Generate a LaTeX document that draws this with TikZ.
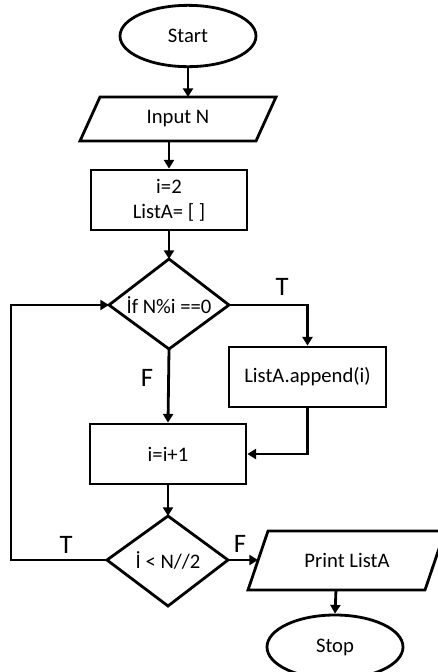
\documentclass[tikz,border=0pt]{standalone}
\usepackage{fontspec}
\setmainfont{Carlito}
\usetikzlibrary{arrows.meta,shapes.geometric}
\begin{document}
\begin{tikzpicture}[x=0.75pt,y=-0.75pt,line width=2.1pt,
  txt/.style={font=\fontsize{15.5}{19}\selectfont, align=center, inner sep=0pt},
  lbl/.style={font=\fontsize{20}{23}\selectfont, inner sep=0pt},
  term/.style={draw, ellipse, txt, minimum width=102pt, minimum height=46pt},
  procbox/.style={draw, rectangle, txt, minimum width=117pt, minimum height=45pt},
  arr/.style={-{Triangle[length=6.5pt,width=7.5pt]}}]
\useasboundingbox (0,0) rectangle (438,672);
\fill[white] (0,0) rectangle (438,672);
% Start
\node[term] (start) at (188,36) {Start};
% Input N parallelogram
\draw[line join=miter] (100,97) -- (276,97) -- (256,141) -- (80,141) -- cycle;
\node[txt] (input) at (178,119) {Input N};
\coordinate (inTop) at (188,97);
\coordinate (inBot) at (169,141);
% init box
\node[procbox] (init) at (169,200) {i=2\\ListA= [ ]};
% decision 1
\coordinate (d1n) at (169,259);
\coordinate (d1s) at (169,349);
\coordinate (d1w) at (109,305);
\coordinate (d1e) at (229,305);
\draw[line join=miter] (d1n) -- (d1e) -- (d1s) -- (d1w) -- cycle;
\node[txt] (d1) at (169,305) {İf N\%i ==0};
% append box
\node[procbox, minimum width=117.75pt] (app) at (307.5,377) {ListA.append(i)};
% increment box
\node[procbox] (inc) at (168,454) {i=i+1};
% decision 2
\coordinate (d2n) at (168,516);
\coordinate (d2s) at (168,606);
\coordinate (d2w) at (107,560);
\coordinate (d2e) at (228,560);
\draw[line join=miter] (d2n) -- (d2e) -- (d2s) -- (d2w) -- cycle;
\node[txt] (d2) at (168,560) {İ < N//2};
% Print parallelogram
\draw[line join=miter] (268,531) -- (445,531) -- (425,590) -- (248,590) -- cycle;
\node[txt] (print) at (347,560) {Print ListA};
\coordinate (prLeft) at (258,560);
\coordinate (prBot) at (336,590);
% Stop
\node[term, minimum height=48pt] (stop) at (335,647) {Stop};
% connectors
\draw[arr] (start.south) -- (inTop);
\draw[arr] (inBot) -- (init.north);
\draw[arr] (init.south) -- (d1n);
\draw[arr] (d1e) -| (app.north);
\draw[arr] (d1s) -- (inc.north);
\draw[arr] (app.south) |- (inc.east);
\draw[arr] (inc.south) -- (d2n);
\coordinate (loopB) at (11,560);
\coordinate (loopT) at (11,305);
\draw[arr, line join=miter] (d2w) -- (loopB) -- (loopT) -- (d1w);
\draw[arr] (d2e) -- (prLeft);
\draw[arr] (prBot) -- (stop.north);
% labels
\node[lbl] (lT1) at (282,287) {T};
\node[lbl] (lF1) at (147,378) {F};
\node[lbl] (lT2) at (66,545) {T};
\node[lbl] (lF2) at (240,544) {F};
\end{tikzpicture}
\end{document}
